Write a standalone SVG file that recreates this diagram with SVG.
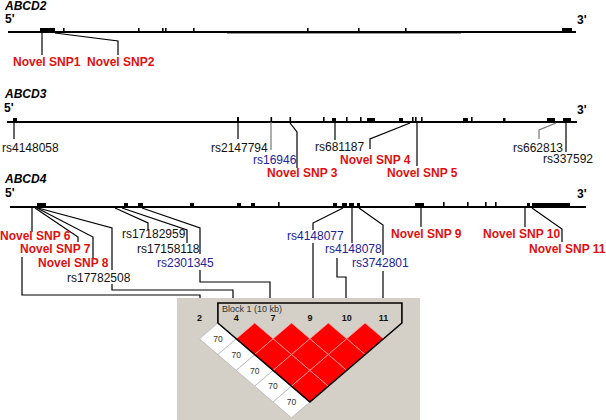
<svg xmlns="http://www.w3.org/2000/svg" width="606" height="420" viewBox="0 0 606 420">
<style>
text{font-family:"Liberation Sans",Arial,sans-serif;font-size:12px}
.t{font-weight:bold;font-style:italic}
.e{font-weight:bold}
.r{fill:#e01010;font-weight:bold}
.b{fill:#22229a}
.k{fill:#111}
.gl{stroke:#000;stroke-width:2;fill:none}
.ex{fill:#000}
.c{stroke:#000;stroke-width:1.2;fill:none}
.cg{stroke:#777;stroke-width:1.2;fill:none}
.rd{fill:#f00;stroke:#ffaaaa;stroke-width:0.7}
.wd{fill:#fff;stroke:#b0b0b0;stroke-width:0.7}
.ml{font-size:9px;font-weight:bold;text-anchor:middle;fill:#111}
.v{font-size:8.5px;text-anchor:middle;fill:#333}
</style>
<rect width="606" height="420" fill="#fff"/>

<g id="ABCD2">
<text x="5" y="10" class="t">ABCD2</text>
<text x="5" y="23" class="e">5'</text>
<text x="577" y="24" class="e">3'</text>
<line x1="8" y1="32" x2="576" y2="32" class="gl"/>
<line x1="227" y1="33.5" x2="461" y2="33.5" stroke="#999" stroke-width="1"/>
<g class="ex">
<rect x="40" y="28" width="15" height="5"/><rect x="63" y="28" width="1.6" height="5"/><rect x="138" y="28" width="1.6" height="5"/><rect x="162" y="28" width="1.6" height="5"/><rect x="165" y="28" width="1.6" height="5"/><rect x="193" y="28" width="1.6" height="5"/><rect x="307" y="28" width="1.6" height="5"/><rect x="358" y="28" width="1.6" height="5"/><rect x="405" y="28" width="1.6" height="5"/><rect x="562" y="28" width="10" height="5"/>
</g>
</g>

<g id="ABCD3">
<text x="5" y="98" class="t">ABCD3</text>
<text x="4" y="112" class="e">5'</text>
<text x="577" y="114" class="e">3'</text>
<line x1="7" y1="122" x2="577" y2="122" class="gl"/>
<g class="ex">
<rect x="13" y="118" width="4" height="5"/><rect x="237" y="117" width="2" height="6"/><rect x="270.5" y="117" width="1.6" height="6"/><rect x="289.5" y="117" width="1.6" height="6"/><rect x="323" y="117" width="1.6" height="6"/><rect x="332" y="118" width="4" height="5"/><rect x="346" y="117" width="1.6" height="6"/><rect x="360" y="117" width="1.6" height="6"/><rect x="367" y="118" width="8" height="5"/><rect x="399" y="118" width="4" height="5"/><rect x="412" y="117" width="1.6" height="6"/><rect x="415" y="117" width="1.6" height="6"/><rect x="421" y="117" width="1.6" height="6"/><rect x="463" y="118" width="5" height="5"/><rect x="471" y="117" width="1.6" height="6"/><rect x="503" y="118" width="2.5" height="5"/><rect x="547" y="118" width="8" height="5"/><rect x="563" y="118" width="8" height="5"/>
</g>
</g>

<g id="ABCD4">
<text x="5" y="183" class="t">ABCD4</text>
<text x="5" y="197" class="e">5'</text>
<text x="577" y="198" class="e">3'</text>
<line x1="10" y1="207" x2="586" y2="207" class="gl"/>
<g class="ex">
<rect x="37" y="203" width="9" height="5"/><rect x="124" y="203" width="4" height="5"/><rect x="138" y="203" width="5" height="5"/><rect x="190" y="203" width="4" height="5"/><rect x="237" y="203" width="4" height="5"/><rect x="251" y="203" width="4" height="5"/><rect x="278" y="202" width="1.6" height="6"/><rect x="333" y="203" width="4" height="5"/><rect x="342" y="203" width="5" height="5"/><rect x="349" y="203" width="5" height="5"/><rect x="357" y="203" width="3" height="5"/><rect x="415" y="203" width="9" height="5"/><rect x="443" y="202" width="1.6" height="6"/><rect x="467" y="202" width="1.6" height="6"/><rect x="485" y="202" width="1.6" height="6"/><rect x="495" y="202" width="1.6" height="6"/><rect x="527" y="203" width="3" height="5"/><rect x="532" y="203" width="38" height="5"/>
</g>
</g>

<g id="connectors">
<path class="c" d="M42,33V55"/>
<path class="c" d="M55,33L118,41V55"/>
<path class="c" d="M14,122V139"/>
<path class="c" d="M238,122V139"/>
<path class="cg" d="M271,122V150"/>
<path class="c" d="M290,123L297,132V168"/>
<path class="c" d="M335,122V140"/>
<path class="c" d="M410,123L370,139V149"/>
<path class="c" d="M417,122V166"/>
<path class="cg" d="M556,123L539,130V139"/>
<path class="c" d="M566,122V152"/>
<path class="c" d="M32,208V232"/>
<path class="c" d="M35,208L78,237V242"/>
<path class="c" d="M37,208L93,237V258"/>
<path class="c" d="M38,208L112,228V270"/>
<path class="c" d="M112,284V290H233V298"/>
<path class="c" d="M22,257V295H200V298"/>
<path class="c" d="M115,208L148,223V230"/>
<path class="c" d="M122,208L187,230V243"/>
<path class="c" d="M142,208L200,228V254"/>
<path class="c" d="M200,270V282H270V298"/>
<path class="c" d="M343,208L313,223V230"/>
<path class="c" d="M313,243V298"/>
<path class="c" d="M352,208V243"/>
<path class="c" d="M337,258V277H346V298"/>
<path class="c" d="M359,208L383,225V255"/>
<path class="c" d="M383,271V298"/>
<path class="c" d="M421,208V227"/>
<path class="c" d="M525,208V227"/>
<path class="c" d="M532,208L562,229V242"/>
</g>

<g id="labels">
<text x="13" y="66" class="r">Novel SNP1</text>
<text x="87" y="66" class="r">Novel SNP2</text>
<text x="2" y="152" class="k">rs4148058</text>
<text x="211" y="152" class="k">rs2147794</text>
<text x="253" y="164" class="b">rs16946</text>
<text x="267" y="177" class="r">Novel SNP 3</text>
<text x="315" y="151" class="k">rs681187</text>
<text x="340" y="164" class="r">Novel SNP 4</text>
<text x="387" y="177" class="r">Novel SNP 5</text>
<text x="513" y="152" class="k">rs662813</text>
<text x="543" y="163" class="k">rs337592</text>
<text x="0" y="240" class="r">Novel SNP 6</text>
<text x="20" y="253" class="r">Novel SNP 7</text>
<text x="38" y="267" class="r">Novel SNP 8</text>
<text x="67" y="282" class="k">rs17782508</text>
<text x="122" y="238" class="k">rs17182959</text>
<text x="137" y="253" class="k">rs17158118</text>
<text x="157" y="267" class="b">rs2301345</text>
<text x="287" y="240" class="b">rs4148077</text>
<text x="325" y="253" class="b">rs4148078</text>
<text x="352" y="267" class="b">rs3742801</text>
<text x="391" y="238" class="r">Novel SNP 9</text>
<text x="483" y="238" class="r">Novel SNP 10</text>
<text x="529" y="253" class="r">Novel SNP 11</text>
</g>

<g id="ldplot">
<rect x="177" y="298" width="243" height="122" fill="#d4d0c8"/>
<g id="white-cells">
<polygon class="wd" points="217.9,323 236.3,338.8 217.9,354.6 199.5,338.8"/>
<polygon class="wd" points="236.3,338.8 254.7,354.6 236.3,370.4 217.9,354.6"/>
<polygon class="wd" points="254.7,354.6 273.1,370.4 254.7,386.2 236.3,370.4"/>
<polygon class="wd" points="273.1,370.4 291.5,386.2 273.1,402 254.7,386.2"/>
<polygon class="wd" points="291.5,386.2 309.9,402 291.5,417.8 273.1,402"/>
</g>
<g id="red-cells">
<polygon class="rd" points="254.7,323 273.1,338.8 254.7,354.6 236.3,338.8"/>
<polygon class="rd" points="291.5,323 309.9,338.8 291.5,354.6 273.1,338.8"/>
<polygon class="rd" points="328.3,323 346.7,338.8 328.3,354.6 309.9,338.8"/>
<polygon class="rd" points="365.1,323 383.5,338.8 365.1,354.6 346.7,338.8"/>
<polygon class="rd" points="273.1,338.8 291.5,354.6 273.1,370.4 254.7,354.6"/>
<polygon class="rd" points="309.9,338.8 328.3,354.6 309.9,370.4 291.5,354.6"/>
<polygon class="rd" points="346.7,338.8 365.1,354.6 346.7,370.4 328.3,354.6"/>
<polygon class="rd" points="291.5,354.6 309.9,370.4 291.5,386.2 273.1,370.4"/>
<polygon class="rd" points="328.3,354.6 346.7,370.4 328.3,386.2 309.9,370.4"/>
<polygon class="rd" points="309.9,370.4 328.3,386.2 309.9,402 291.5,386.2"/>
</g>
<path d="M217.9,323V303H401.9V323L309.9,402Z" fill="none" stroke="#000" stroke-width="1.6"/>
<text x="222" y="312" fill="#333" style="font-size:9px">Block 1 (10 kb)</text>
<text x="199.5" y="321" class="ml">2</text>
<text x="236.3" y="321" class="ml">4</text>
<text x="273.1" y="321" class="ml">7</text>
<text x="309.9" y="321" class="ml">9</text>
<text x="346.7" y="321" class="ml">10</text>
<text x="383.5" y="321" class="ml">11</text>
<text x="217.9" y="342" class="v">70</text>
<text x="236.3" y="357.8" class="v">70</text>
<text x="254.7" y="373.6" class="v">70</text>
<text x="273.1" y="389.4" class="v">70</text>
<text x="291.5" y="405.2" class="v">70</text>
</g>
</svg>
